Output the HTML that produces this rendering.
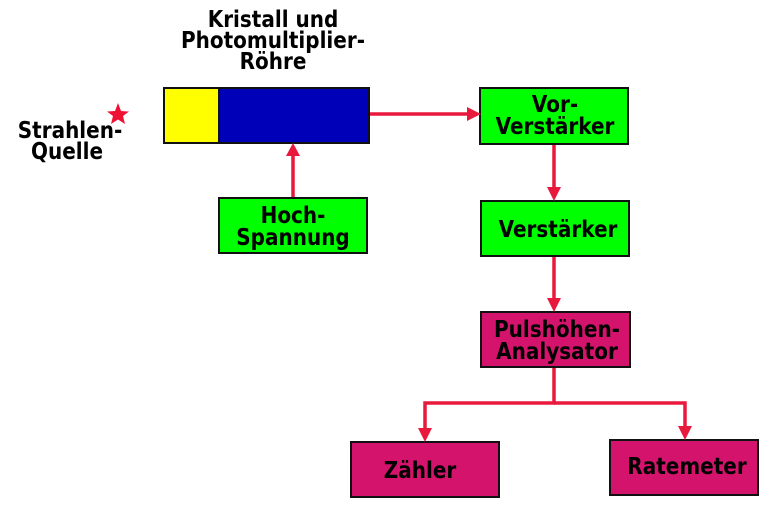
<!DOCTYPE html>
<html><head><meta charset="utf-8"><style>html,body{margin:0;padding:0;background:#fff}svg{display:block}</style></head>
<body>
<svg width="779" height="512" viewBox="0 0 779 512" xmlns="http://www.w3.org/2000/svg" style="font-family:'DejaVu Sans','Liberation Sans',sans-serif;font-weight:bold;font-size:20px" text-anchor="middle">
<rect width="779" height="512" fill="#fff"/>
<g fill="#000">
<text transform="translate(273,27) scale(1,1.15)">Kristall und</text>
<text transform="translate(273,48) scale(1,1.15)">Photomultiplier-</text>
<text transform="translate(273,69) scale(1,1.15)">Röhre</text>
<text transform="translate(70,138) scale(1,1.15)">Strahlen-</text>
<text transform="translate(67,159) scale(1,1.15)">Quelle</text>
</g>
<polygon fill="#ee1133" points="118,103 121,111 129,111.5 123,116 125,124 118,119.5 111,124 113,116 107,111.5 115,111"/>
<rect x="164" y="88" width="55" height="55" fill="#ffff00" stroke="#111" stroke-width="2"/>
<rect x="219" y="88" width="150" height="55" fill="#0000b8" stroke="#111" stroke-width="2"/>
<g stroke="#111" stroke-width="2">
<rect x="219" y="198" width="148" height="55" fill="#00ff00"/>
<rect x="480" y="88" width="148" height="56" fill="#00ff00"/>
<rect x="481" y="201" width="148" height="55" fill="#00ff00"/>
<rect x="481" y="312" width="149" height="55" fill="#d4146c"/>
<rect x="351" y="442" width="148" height="55" fill="#d4146c"/>
<rect x="610" y="440" width="148" height="55" fill="#d4146c"/>
</g>
<g fill="#000">
<text transform="translate(293,223) scale(1,1.15)">Hoch-</text>
<text transform="translate(293,245) scale(1,1.15)">Spannung</text>
<text transform="translate(555,112) scale(1,1.15)">Vor-</text>
<text transform="translate(555,134) scale(1,1.15)">Verstärker</text>
<text transform="translate(558,237) scale(1,1.15)">Verstärker</text>
<text transform="translate(557,337) scale(1,1.15)">Pulshöhen-</text>
<text transform="translate(557,359) scale(1,1.15)">Analysator</text>
<text transform="translate(420,478) scale(1,1.15)">Zähler</text>
<text transform="translate(687,474) scale(1,1.15)">Ratemeter</text>
</g>
<g stroke="#e8193c" stroke-width="3.5" fill="none">
<line x1="370" y1="114" x2="468" y2="114"/>
<line x1="293" y1="197" x2="293" y2="154"/>
<line x1="554" y1="145" x2="554" y2="188"/>
<line x1="554" y1="257" x2="554" y2="299"/>
<polyline points="554,368 554,403 425,403 425,429"/>
<polyline points="554,403 685,403 685,427"/>
</g>
<g fill="#e8193c">
<polygon points="481,114 467,107 467,121"/>
<polygon points="293,143 286,156 300,156"/>
<polygon points="554,201 547,187 561,187"/>
<polygon points="554,312 547,298 561,298"/>
<polygon points="425,442 418,428 432,428"/>
<polygon points="685,440 678,426 692,426"/>
</g>
</svg>
</body></html>
